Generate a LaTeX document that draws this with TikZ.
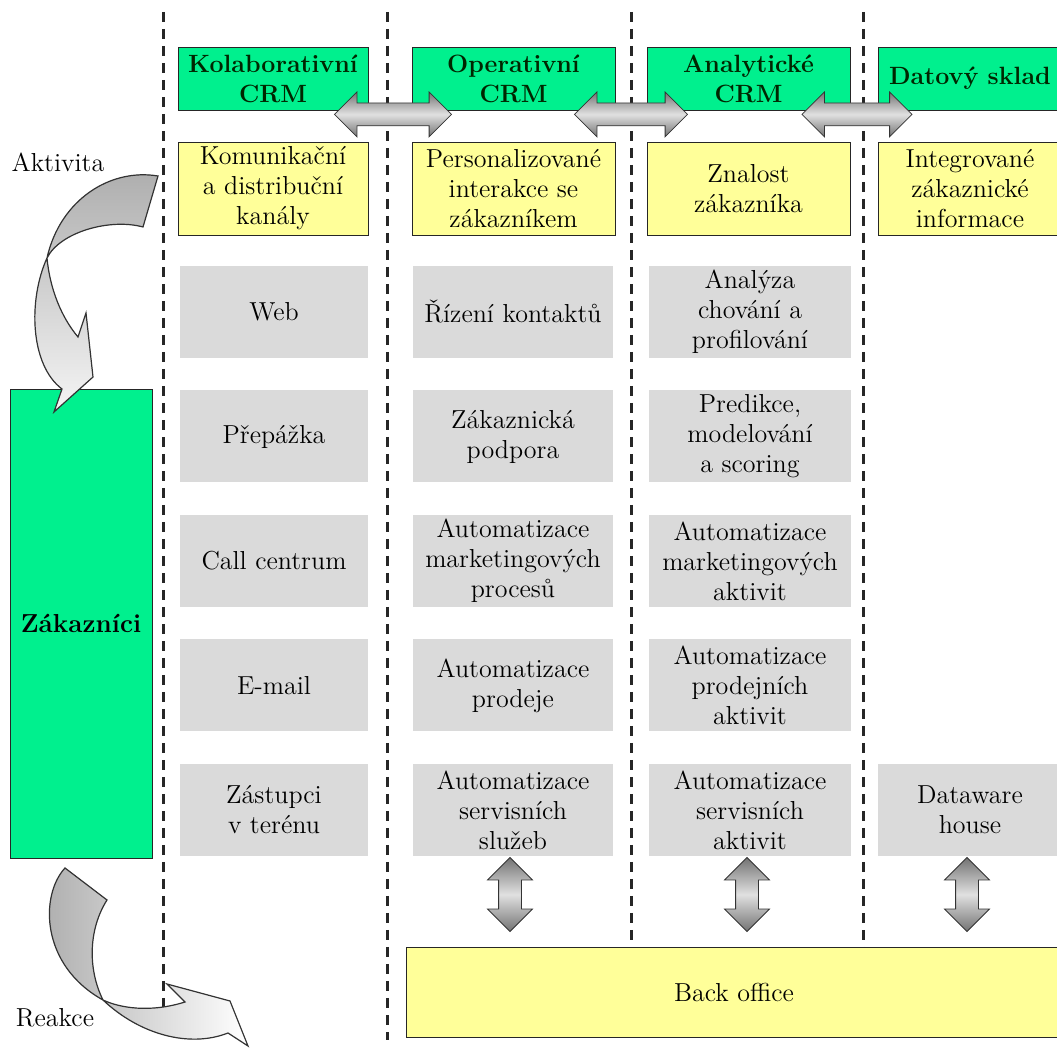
\documentclass[tikz,border=0pt]{standalone}
\usetikzlibrary{calc,shapes.arrows,positioning}
\definecolor{zelena}{RGB}{0,240,142}
\definecolor{zluta}{RGB}{255,255,153}
\definecolor{seda}{RGB}{218,218,218}
\tikzset{
  hlavicka/.style={draw=black!85, fill=zelena, text=green!15!black, font=\fontsize{12.5}{15}\selectfont\bfseries, align=center, inner sep=0pt, minimum height=31.5pt},
  zluty/.style={draw=black!85, fill=zluta, align=center, inner sep=0pt, minimum height=46.5pt},
  sedy/.style={fill=seda, align=center, inner sep=0pt, minimum height=46pt},
  oddel/.style={line width=1.5pt, black!85, dash pattern=on 5pt off 3.5pt},
  sipka/.style={double arrow, draw=black!80, inner sep=5.5pt, double arrow head extend=5.5pt, minimum width=22pt, top color=black!55, bottom color=black!55, middle color=black!12},
  zahnuta/.style={draw=black!80, line width=.6pt}
}
\begin{document}
\begin{tikzpicture}[x=.5pt, y=-.5pt, font=\fontsize{13}{15}\selectfont]
\useasboundingbox (0,0) rectangle (1057,1048);
\foreach \x/\yb in {163/1007, 387/1040, 631/946, 863/950} \draw[oddel] (\x,12) -- (\x,\yb);

\node[hlavicka, minimum width=95pt] (kol) at (273,78.5) {Kolaborativní\\CRM};
\node[hlavicka, minimum width=101.5pt] (ope) at (513.5,78.5) {Operativní\\CRM};
\node[hlavicka, minimum width=101.5pt] (ana) at (748.5,78.5) {Analytické\\CRM};
\node[hlavicka, minimum width=92pt] (dat) at (970,78.5) {Datový sklad};

\node[zluty, minimum width=95pt] (kom) at (273,188.5) {Komunikační\\a distribuční\\kanály};
\node[zluty, minimum width=101.5pt] (per) at (513.5,188.5) {Personalizované\\interakce se\\zákazníkem};
\node[zluty, minimum width=101.5pt] (zna) at (748.5,188.5) {Znalost\\zákazníka};
\node[zluty, minimum width=92pt] (int) at (970,188.5) {Integrované\\zákaznické\\informace};

\foreach \t [count=\i] in {Web, Přepážka, Call centrum, E-mail, {Zástupci\\v terénu}}
  \node[sedy, minimum width=94pt] (kan\i) at (274,{312+124.5*(\i-1)}) {\t};
\foreach \t [count=\i] in {Řízení kontaktů, {Zákaznická\\podpora}, {Automatizace\\marketingových\\procesů}, {Automatizace\\prodeje}, {Automatizace\\servisních\\služeb}}
  \node[sedy, minimum width=100pt] (op\i) at (513,{312+124.5*(\i-1)}) {\t};
\foreach \t [count=\i] in {{Analýza\\chování a\\profilování}, {Predikce,\\modelování\\a scoring}, {Automatizace\\marketingových\\aktivit}, {Automatizace\\prodejních\\aktivit}, {Automatizace\\servisních\\aktivit}}
  \node[sedy, minimum width=101pt] (an\i) at (750,{312+124.5*(\i-1)}) {\t};
\node[sedy, minimum width=92pt] (dw) at (970,810) {Dataware\\house};

\node[draw=black!85, fill=zelena, font=\fontsize{13}{15}\selectfont\bfseries, minimum width=71pt, minimum height=234.5pt, inner sep=0pt] (zak) at (81,623.5) {Zákazníci};
\node[draw=black!85, fill=zluta, minimum width=328pt, minimum height=45pt, inner sep=0pt] (back) at (734,992) {Back office};

\node[sipka, minimum height=58.5pt] (h1) at ($(kol.south east)!.5!(ope.south west)+(3,4)$) {};
\node[sipka, minimum height=56.5pt] (h2) at ($(ope.south east)!.5!(ana.south west)+(0,4)$) {};
\node[sipka, minimum height=55pt] (h3) at ($(ana.south east)!.5!(dat.south west)+(-7,4)$) {};

\foreach \n in {op5, an5, dw}
  \node[sipka, rotate=90, minimum height=37pt] (v\n) at ($(\n.south)!.5!(\n.south |- back.north)+(-3,-7)$) {};

\node (akt) at (58,162) {Aktivita};
\node (rea) at (55,1018) {Reakce};

\filldraw[zahnuta, top color=black!32, bottom color=black!4] (158,176) .. controls (110,168) and (60,200) .. (47,258)
  .. controls (28,300) and (30,365) .. (62,389) -- (54,412) -- (93,377) -- (86,313) -- (78,337)
  .. controls (62,318) and (50,290) .. (47,258)
  .. controls (60,232) and (110,218) .. (143,227) -- cycle;
\filldraw[zahnuta, left color=black!32, right color=white] (65,868) .. controls (40,895) and (40,965) .. (103,1000)
  .. controls (140,1035) and (190,1048) .. (228,1033) -- (248,1046) -- (230,1001) -- (167,984) -- (185,1002)
  .. controls (150,1013) and (120,1008) .. (103,1000)
  .. controls (88,970) and (88,930) .. (107,900) -- cycle;
\end{tikzpicture}
\end{document}
